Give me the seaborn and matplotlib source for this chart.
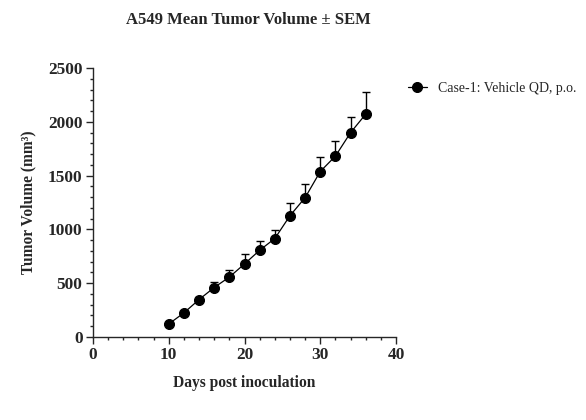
import numpy as np
import pandas as pd
import matplotlib
matplotlib.use("Agg")
import matplotlib.pyplot as plt
from matplotlib.ticker import MultipleLocator
import seaborn as sns

days = [10, 12, 14, 16, 18, 20, 22, 24, 26, 28, 30, 32, 34, 36]
mean_volume = [121, 224, 348, 460, 557, 679, 806, 915, 1127, 1295, 1538, 1681, 1899, 2071]
sem_volume = [10, 15, 20, 51, 62, 90, 88, 82, 118, 131, 138, 137, 149, 207]
group_name = "Case-1: Vehicle QD, p.o."

df = pd.DataFrame({"day": days, "volume": mean_volume, "sem": sem_volume})

sns.set_style("ticks")
plt.rcParams["font.family"] = ["Liberation Serif", "DejaVu Serif"]

fig = plt.figure(figsize=(5.86, 4.2), dpi=100)
ax = fig.add_axes([93 / 586, 1 - 337 / 420, 303 / 586, 269 / 420])

# upward-only SEM bars
ax.errorbar(df["day"], df["volume"], yerr=[np.zeros(len(df)), df["sem"]],
            fmt="none", ecolor="black", elinewidth=1, capsize=2.6, capthick=1, zorder=2)
sns.lineplot(data=df, x="day", y="volume", marker="o", color="black",
             markersize=7.2, linewidth=0.9, markeredgecolor="black",
             label=group_name, ax=ax, zorder=3)

ax.set_xlim(0, 40)
ax.set_ylim(0, 2500)
ax.xaxis.set_major_locator(MultipleLocator(10))
ax.xaxis.set_minor_locator(MultipleLocator(2))
ax.yaxis.set_major_locator(MultipleLocator(500))
ax.yaxis.set_minor_locator(MultipleLocator(100))
ax.tick_params(which="major", length=5, width=1, labelsize=12.4, pad=2.5)
ax.tick_params(which="minor", length=2.5, width=1)
for lab in ax.get_xticklabels() + ax.get_yticklabels():
    lab.set_fontweight("bold")
sns.despine(ax=ax)
for s in ["left", "bottom"]:
    ax.spines[s].set_linewidth(1)

ax.set_xlabel("Days post inoculation", fontsize=11.2, fontweight="bold", labelpad=8.5)
ax.set_ylabel("Tumor Volume (mm³)", fontsize=11.2, fontweight="bold", labelpad=8)
fig.text(248.5 / 586, 1 - 20 / 420, "A549 Mean Tumor Volume ± SEM", ha="center", va="center",
         fontsize=12, fontweight="bold")

ax.legend(loc="upper left", bbox_to_anchor=(1.02, 0.97), frameon=False,
          fontsize=10, handlelength=1.4, borderaxespad=0)

fig.savefig("out.png", dpi=100)
